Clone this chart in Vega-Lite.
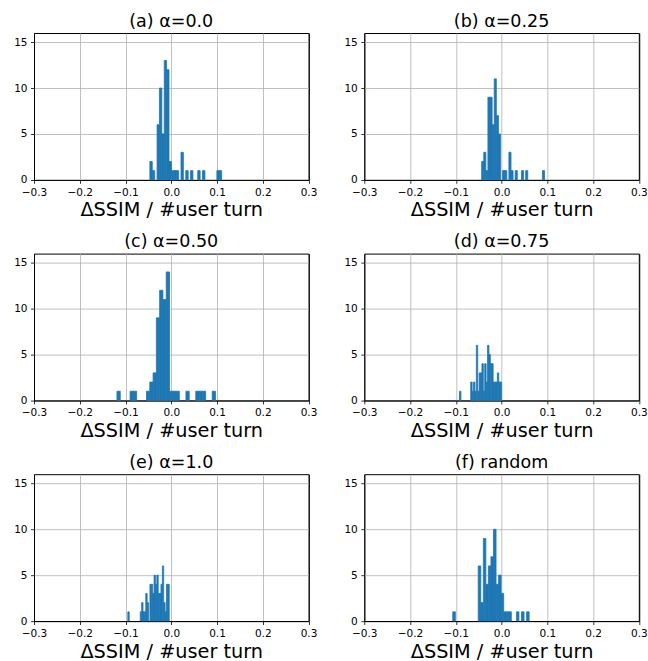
{
  "$schema": "https://vega.github.io/schema/vega-lite/v6.json",
  "padding": {"left": 13, "top": 12, "right": 1, "bottom": 0},
  "datasets": {
    "a": [
      {"lo": -0.0467, "hi": -0.0415, "n": 2}, {"lo": -0.0415, "hi": -0.0362, "n": 1},
      {"lo": -0.0310, "hi": -0.0258, "n": 6}, {"lo": -0.0258, "hi": -0.0206, "n": 10},
      {"lo": -0.0206, "hi": -0.0153, "n": 5}, {"lo": -0.0153, "hi": -0.0101, "n": 13},
      {"lo": -0.0101, "hi": -0.0049, "n": 12}, {"lo": -0.0049, "hi": 0.0004, "n": 2},
      {"lo": 0.0004, "hi": 0.0056, "n": 1}, {"lo": 0.0056, "hi": 0.0108, "n": 1},
      {"lo": 0.0108, "hi": 0.0161, "n": 1}, {"lo": 0.0213, "hi": 0.0265, "n": 3},
      {"lo": 0.0318, "hi": 0.0370, "n": 1}, {"lo": 0.0422, "hi": 0.0474, "n": 1},
      {"lo": 0.0579, "hi": 0.0631, "n": 1}, {"lo": 0.0684, "hi": 0.0736, "n": 1},
      {"lo": 0.0997, "hi": 0.1050, "n": 1}, {"lo": 0.1050, "hi": 0.1102, "n": 1}
    ],
    "b": [
      {"lo": -0.0435, "hi": -0.0389, "n": 2}, {"lo": -0.0389, "hi": -0.0343, "n": 3},
      {"lo": -0.0343, "hi": -0.0298, "n": 1}, {"lo": -0.0298, "hi": -0.0252, "n": 9},
      {"lo": -0.0252, "hi": -0.0206, "n": 9}, {"lo": -0.0206, "hi": -0.0160, "n": 6},
      {"lo": -0.0160, "hi": -0.0114, "n": 11}, {"lo": -0.0114, "hi": -0.0068, "n": 7},
      {"lo": -0.0068, "hi": -0.0023, "n": 5}, {"lo": 0.0023, "hi": 0.0069, "n": 1},
      {"lo": 0.0069, "hi": 0.0115, "n": 1}, {"lo": 0.0161, "hi": 0.0207, "n": 3},
      {"lo": 0.0207, "hi": 0.0252, "n": 1}, {"lo": 0.0298, "hi": 0.0344, "n": 1},
      {"lo": 0.0436, "hi": 0.0482, "n": 1}, {"lo": 0.0527, "hi": 0.0573, "n": 1},
      {"lo": 0.0894, "hi": 0.0940, "n": 1}
    ],
    "c": [
      {"lo": -0.1187, "hi": -0.1115, "n": 1}, {"lo": -0.0900, "hi": -0.0828, "n": 1},
      {"lo": -0.0828, "hi": -0.0756, "n": 1}, {"lo": -0.0541, "hi": -0.0469, "n": 1},
      {"lo": -0.0469, "hi": -0.0397, "n": 2}, {"lo": -0.0397, "hi": -0.0325, "n": 3},
      {"lo": -0.0325, "hi": -0.0254, "n": 9}, {"lo": -0.0254, "hi": -0.0182, "n": 12},
      {"lo": -0.0182, "hi": -0.0110, "n": 11}, {"lo": -0.0110, "hi": -0.0038, "n": 14},
      {"lo": -0.0038, "hi": 0.0034, "n": 1}, {"lo": 0.0034, "hi": 0.0105, "n": 1},
      {"lo": 0.0105, "hi": 0.0177, "n": 1}, {"lo": 0.0321, "hi": 0.0393, "n": 1},
      {"lo": 0.0536, "hi": 0.0608, "n": 1}, {"lo": 0.0608, "hi": 0.0680, "n": 1},
      {"lo": 0.0680, "hi": 0.0752, "n": 1}, {"lo": 0.0895, "hi": 0.0967, "n": 1}
    ],
    "d": [
      {"lo": -0.0919, "hi": -0.0888, "n": 1}, {"lo": -0.0674, "hi": -0.0643, "n": 2},
      {"lo": -0.0643, "hi": -0.0613, "n": 1}, {"lo": -0.0613, "hi": -0.0582, "n": 2},
      {"lo": -0.0582, "hi": -0.0551, "n": 1}, {"lo": -0.0551, "hi": -0.0521, "n": 6},
      {"lo": -0.0521, "hi": -0.0490, "n": 1}, {"lo": -0.0490, "hi": -0.0460, "n": 3},
      {"lo": -0.0460, "hi": -0.0429, "n": 3}, {"lo": -0.0429, "hi": -0.0398, "n": 4},
      {"lo": -0.0398, "hi": -0.0368, "n": 1}, {"lo": -0.0368, "hi": -0.0337, "n": 4},
      {"lo": -0.0337, "hi": -0.0306, "n": 2}, {"lo": -0.0306, "hi": -0.0276, "n": 6},
      {"lo": -0.0276, "hi": -0.0245, "n": 5}, {"lo": -0.0245, "hi": -0.0215, "n": 4},
      {"lo": -0.0215, "hi": -0.0184, "n": 4}, {"lo": -0.0184, "hi": -0.0153, "n": 2},
      {"lo": -0.0153, "hi": -0.0123, "n": 2}, {"lo": -0.0123, "hi": -0.0092, "n": 2},
      {"lo": -0.0092, "hi": -0.0061, "n": 3}, {"lo": -0.0061, "hi": -0.0031, "n": 2},
      {"lo": -0.0031, "hi": 0.0000, "n": 2}
    ],
    "e": [
      {"lo": -0.0949, "hi": -0.0919, "n": 1}, {"lo": -0.0678, "hi": -0.0647, "n": 1},
      {"lo": -0.0647, "hi": -0.0617, "n": 2}, {"lo": -0.0617, "hi": -0.0587, "n": 1},
      {"lo": -0.0587, "hi": -0.0557, "n": 1}, {"lo": -0.0557, "hi": -0.0527, "n": 3},
      {"lo": -0.0527, "hi": -0.0496, "n": 2}, {"lo": -0.0466, "hi": -0.0436, "n": 4},
      {"lo": -0.0436, "hi": -0.0406, "n": 4}, {"lo": -0.0406, "hi": -0.0376, "n": 3},
      {"lo": -0.0376, "hi": -0.0346, "n": 5}, {"lo": -0.0346, "hi": -0.0315, "n": 4},
      {"lo": -0.0315, "hi": -0.0285, "n": 5}, {"lo": -0.0285, "hi": -0.0255, "n": 3},
      {"lo": -0.0255, "hi": -0.0225, "n": 3}, {"lo": -0.0225, "hi": -0.0195, "n": 4},
      {"lo": -0.0195, "hi": -0.0165, "n": 6}, {"lo": -0.0165, "hi": -0.0134, "n": 2},
      {"lo": -0.0134, "hi": -0.0104, "n": 1}, {"lo": -0.0104, "hi": -0.0074, "n": 4},
      {"lo": -0.0074, "hi": -0.0044, "n": 4}
    ],
    "f": [
      {"lo": -0.1066, "hi": -0.1010, "n": 1}, {"lo": -0.0510, "hi": -0.0454, "n": 6},
      {"lo": -0.0454, "hi": -0.0398, "n": 2}, {"lo": -0.0398, "hi": -0.0343, "n": 9},
      {"lo": -0.0343, "hi": -0.0287, "n": 4}, {"lo": -0.0287, "hi": -0.0232, "n": 6},
      {"lo": -0.0232, "hi": -0.0176, "n": 7}, {"lo": -0.0176, "hi": -0.0120, "n": 10},
      {"lo": -0.0120, "hi": -0.0065, "n": 4}, {"lo": -0.0065, "hi": -0.0009, "n": 5},
      {"lo": -0.0009, "hi": 0.0047, "n": 3}, {"lo": 0.0047, "hi": 0.0102, "n": 1},
      {"lo": 0.0102, "hi": 0.0158, "n": 1}, {"lo": 0.0158, "hi": 0.0214, "n": 1},
      {"lo": 0.0325, "hi": 0.0380, "n": 1}, {"lo": 0.0436, "hi": 0.0492, "n": 1},
      {"lo": 0.0547, "hi": 0.0603, "n": 1}
    ]
  },
  "columns": 2,
  "spacing": {"row": 73.6, "column": 55.3},
  "bounds": "flush",
  "concat": [
    {
      "title": "(a) α=0.0",
      "width": 274.5, "height": 146.8,
      "data": {"name": "a"},
      "mark": {"type": "bar", "color": "#1f77b4", "stroke": "#1f77b4", "strokeWidth": 0.8},
      "encoding": {
        "x": {"field": "lo", "type": "quantitative", "scale": {"domain": [-0.3, 0.3], "nice": false, "zero": false}, "axis": {"values": [-0.3, -0.2, -0.1, 0, 0.1, 0.2, 0.3], "format": ".1f", "title": "ΔSSIM / #user turn"}},
        "x2": {"field": "hi"},
        "y": {"field": "n", "type": "quantitative", "scale": {"domain": [0, 16], "nice": false}, "axis": {"values": [0, 5, 10, 15], "title": null}},
        "y2": {"datum": 0}
      }
    },
    {
      "title": "(b) α=0.25",
      "width": 274.5, "height": 146.8,
      "data": {"name": "b"},
      "mark": {"type": "bar", "color": "#1f77b4", "stroke": "#1f77b4", "strokeWidth": 0.8},
      "encoding": {
        "x": {"field": "lo", "type": "quantitative", "scale": {"domain": [-0.3, 0.3], "nice": false, "zero": false}, "axis": {"values": [-0.3, -0.2, -0.1, 0, 0.1, 0.2, 0.3], "format": ".1f", "title": "ΔSSIM / #user turn"}},
        "x2": {"field": "hi"},
        "y": {"field": "n", "type": "quantitative", "scale": {"domain": [0, 16], "nice": false}, "axis": {"values": [0, 5, 10, 15], "title": null}},
        "y2": {"datum": 0}
      }
    },
    {
      "title": "(c) α=0.50",
      "width": 274.5, "height": 146.8,
      "data": {"name": "c"},
      "mark": {"type": "bar", "color": "#1f77b4", "stroke": "#1f77b4", "strokeWidth": 0.8},
      "encoding": {
        "x": {"field": "lo", "type": "quantitative", "scale": {"domain": [-0.3, 0.3], "nice": false, "zero": false}, "axis": {"values": [-0.3, -0.2, -0.1, 0, 0.1, 0.2, 0.3], "format": ".1f", "title": "ΔSSIM / #user turn"}},
        "x2": {"field": "hi"},
        "y": {"field": "n", "type": "quantitative", "scale": {"domain": [0, 16], "nice": false}, "axis": {"values": [0, 5, 10, 15], "title": null}},
        "y2": {"datum": 0}
      }
    },
    {
      "title": "(d) α=0.75",
      "width": 274.5, "height": 146.8,
      "data": {"name": "d"},
      "mark": {"type": "bar", "color": "#1f77b4", "stroke": "#1f77b4", "strokeWidth": 0.8},
      "encoding": {
        "x": {"field": "lo", "type": "quantitative", "scale": {"domain": [-0.3, 0.3], "nice": false, "zero": false}, "axis": {"values": [-0.3, -0.2, -0.1, 0, 0.1, 0.2, 0.3], "format": ".1f", "title": "ΔSSIM / #user turn"}},
        "x2": {"field": "hi"},
        "y": {"field": "n", "type": "quantitative", "scale": {"domain": [0, 16], "nice": false}, "axis": {"values": [0, 5, 10, 15], "title": null}},
        "y2": {"datum": 0}
      }
    },
    {
      "title": "(e) α=1.0",
      "width": 274.5, "height": 146.8,
      "data": {"name": "e"},
      "mark": {"type": "bar", "color": "#1f77b4", "stroke": "#1f77b4", "strokeWidth": 0.8},
      "encoding": {
        "x": {"field": "lo", "type": "quantitative", "scale": {"domain": [-0.3, 0.3], "nice": false, "zero": false}, "axis": {"values": [-0.3, -0.2, -0.1, 0, 0.1, 0.2, 0.3], "format": ".1f", "title": "ΔSSIM / #user turn"}},
        "x2": {"field": "hi"},
        "y": {"field": "n", "type": "quantitative", "scale": {"domain": [0, 16], "nice": false}, "axis": {"values": [0, 5, 10, 15], "title": null}},
        "y2": {"datum": 0}
      }
    },
    {
      "title": "(f) random",
      "width": 274.5, "height": 146.8,
      "data": {"name": "f"},
      "mark": {"type": "bar", "color": "#1f77b4", "stroke": "#1f77b4", "strokeWidth": 0.8},
      "encoding": {
        "x": {"field": "lo", "type": "quantitative", "scale": {"domain": [-0.3, 0.3], "nice": false, "zero": false}, "axis": {"values": [-0.3, -0.2, -0.1, 0, 0.1, 0.2, 0.3], "format": ".1f", "title": "ΔSSIM / #user turn"}},
        "x2": {"field": "hi"},
        "y": {"field": "n", "type": "quantitative", "scale": {"domain": [0, 16], "nice": false}, "axis": {"values": [0, 5, 10, 15], "title": null}},
        "y2": {"datum": 0}
      }
    }
  ],
  "config": {
    "font": "DejaVu Sans",
    "view": {"stroke": "black", "strokeWidth": 1},
    "axis": {
      "grid": true, "gridWidth": 0.8,
      "domain": false, "tickColor": "black", "tickSize": 3.5, "tickWidth": 0.8,
      "labelFontSize": 10.5, "labelColor": "black", "labelPadding": 4,
      "labelFlush": false, "labelOverlap": false,
      "titleFontSize": 19.3, "titleFontWeight": "normal", "titleColor": "black", "titlePadding": 3
    },
    "axisX": {"gridColor": {"condition": {"test": "abs(datum.value) > 0.29", "value": "black"}, "value": "#b0b0b0"}},
    "axisY": {"labelPadding": 3.5, "gridColor": {"condition": {"test": "datum.value < 0.5", "value": "black"}, "value": "#b0b0b0"}},
    "title": {"fontSize": 17.5, "fontWeight": "normal", "color": "black", "anchor": "middle", "offset": 3}
  }
}
